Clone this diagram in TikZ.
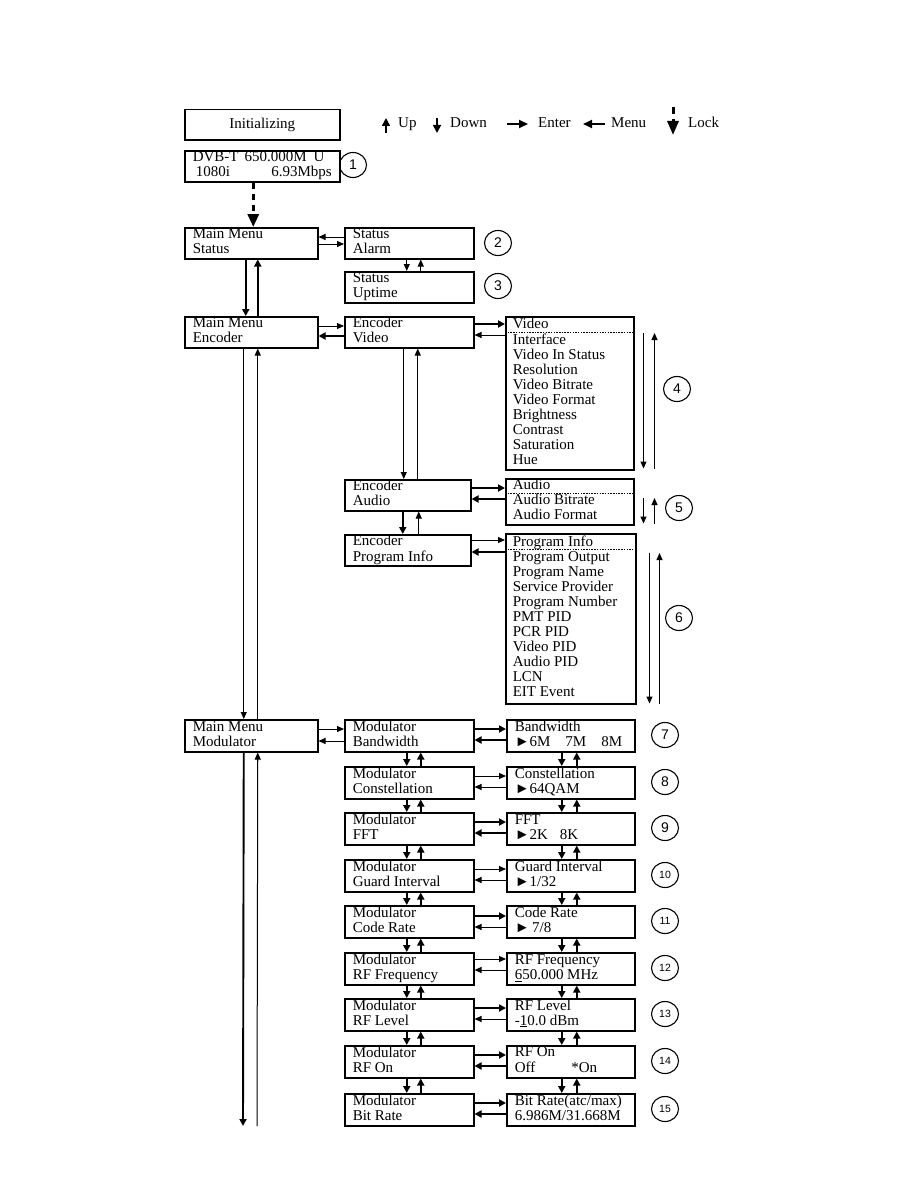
\documentclass[tikz,border=0pt]{standalone}
\usepackage{fontspec}
\setmainfont{Liberation Serif}
\newfontfamily\numfont{Liberation Sans}
\usetikzlibrary{arrows.meta,shapes.geometric}

\tikzset{
  lcdbox/.style={draw, line width=1.5pt, anchor=north west, inner xsep=8pt, inner ysep=0pt,
    align=flush left, font=\fontsize{15}{15}\selectfont},
  leftbox/.style={lcdbox, text width=117pt, minimum height=31pt},
  midbox/.style={lcdbox, text width=113pt, minimum height=31pt},
  valbox/.style={lcdbox, text width=112pt, minimum height=32pt},
  listbox/.style={lcdbox, inner xsep=7pt, text width=114pt},
  num/.style={draw, ellipse, line width=1.1pt, minimum width=27pt, minimum height=25pt,
    inner sep=0pt, font=\numfont\fontsize{14}{14}\selectfont},
  smallnum/.style={num, font=\numfont\fontsize{10.5}{10.5}\selectfont},
  thn/.style={line width=1pt, -{Triangle[length=7pt,width=6pt]}},
  thk/.style={line width=1.9pt, -{Triangle[length=7pt,width=7pt]}},
  lockarrow/.style={line width=3pt, dash pattern=on 6pt off 5pt, -{Triangle[length=13pt,width=11pt]}},
  sepline/.style={line width=1pt, dash pattern=on 1.5pt off 1.2pt},
  legend/.style={anchor=base west, inner sep=0pt, font=\fontsize{15}{15}\selectfont}
}

\begin{document}
\begin{tikzpicture}[x=1pt,y=1pt]
\useasboundingbox (0,0) rectangle (918,-1188);

% legend
\node[draw, line width=1.5pt, anchor=north west, minimum width=155pt, minimum height=30pt,
  font=\fontsize{15}{15}\selectfont] (init) at (184,-109) {Initializing};
\node[legend] (up) at (398,-128) {Up};
\node[legend] (down) at (450,-128) {Down};
\node[legend] (enter) at (538,-128) {Enter};
\node[legend] (menu) at (611,-128) {Menu};
\node[legend] (lock) at (688,-128) {Lock};
\draw[line width=1.6pt, -{Triangle[length=8pt,width=8pt]}] ([xshift=-12pt,yshift=-5pt]up.base west) -- ++(0,15);
\draw[line width=1.6pt, -{Triangle[length=8pt,width=8pt]}] ([xshift=-13pt,yshift=10pt]down.base west) -- ++(0,-15);
\draw[line width=1.8pt, -{Triangle[length=9pt,width=8pt]}] ([xshift=-31pt,yshift=4pt]enter.base west) -- ++(21,0);
\draw[line width=1.8pt, -{Triangle[length=9pt,width=8pt]}] ([xshift=-6pt,yshift=4pt]menu.base west) -- ++(-22,0);
\draw[line width=3pt, dash pattern=on 7pt off 5pt, -{Triangle[length=14pt,width=11pt]}] ([xshift=-15pt,yshift=21pt]lock.base west) -- ++(0,-28);

% status
\node[lcdbox, text width=139pt, minimum height=31pt] (dvb) at (184,-150)
  {\strut DVB-T\hspace{6pt}650.000M\hspace{7pt}U\\\strut\hspace{3pt}1080i\hfill 6.93Mbps};
\node[num] (c1) at (353,-165) {1};

\node[leftbox] (mmstatus) at (184,-227) {\strut Main Menu\\\strut Status};
\node[midbox] (stalarm) at (344,-227) {\strut Status\\\strut Alarm};
\node[midbox] (stuptime) at (344,-271) {\strut Status\\\strut Uptime};
\node[num] (c2) at (498,-243) {2};
\node[num] (c3) at (498,-286) {3};

\draw[lockarrow] ([xshift=-9pt]dvb.south) -- ([xshift=-9pt]dvb.south |- mmstatus.north);
\draw[thn] ([yshift=-10pt]stalarm.north west) -- ([yshift=-10pt]mmstatus.north east);
\draw[thn] ([yshift=-17pt]mmstatus.north east) -- ([yshift=-17pt]stalarm.north west);
\draw[thn] ([xshift=-2.5pt]stalarm.south) -- ([xshift=-2.5pt]stuptime.north);
\draw[thn] ([xshift=11.5pt]stuptime.north) -- ([xshift=11.5pt]stalarm.south);

% encoder
\node[leftbox] (mmenc) at (184,-316) {\strut Main Menu\\\strut Encoder};
\node[midbox] (encvideo) at (344,-316) {\strut Encoder\\\strut Video};
\node[listbox, minimum height=153pt] (vlist) at (505,-316)
  {\strut Video\\\strut Interface\\\strut Video In Status\\\strut Resolution\\\strut Video Bitrate\\
   \strut Video Format\\\strut Brightness\\\strut Contrast\\\strut Saturation\\\strut Hue};
\draw[sepline] ([yshift=-16pt]vlist.north west) -- ([yshift=-16pt]vlist.north east);
\node[num] (c4) at (677,-389) {4};

\node[midbox, text width=110pt] (encaudio) at (344,-479) {\strut Encoder\\\strut Audio};
\node[listbox, minimum height=46pt] (alist) at (505,-478)
  {\strut Audio\\\strut Audio Bitrate\\\strut Audio Format};
\draw[sepline] ([yshift=-15pt]alist.north west) -- ([yshift=-15pt]alist.north east);
\node[num] (c5) at (679,-508) {5};

\node[midbox, text width=110pt] (encprog) at (344,-534) {\strut Encoder\\\strut Program Info};
\node[listbox, text width=116pt, minimum height=170pt] (plist) at (505,-533)
  {\strut Program Info\\\strut Program Output\\\strut Program Name\\\strut Service Provider\\
   \strut Program Number\\\strut PMT PID\\\strut PCR PID\\\strut Video PID\\\strut Audio PID\\
   \strut LCN\\\strut EIT Event};
\draw[sepline] ([yshift=-16pt]plist.north west) -- ([yshift=-16pt]plist.north east);
\node[num] (c6) at (679,-618) {6};

\draw[thk] ([xshift=-5.5pt]mmstatus.south) -- ([xshift=-5.5pt]mmenc.north);
\draw[thk] ([xshift=6.5pt]mmenc.north) -- ([xshift=6.5pt]mmstatus.south);
\draw[thn] ([yshift=-10pt]mmenc.north east) -- ([yshift=-10pt]encvideo.north west);
\draw[thk] ([yshift=-20pt]encvideo.north west) -- ([yshift=-20pt]mmenc.north east);
\draw[thk] ([yshift=-8pt]encvideo.north east) -- ([yshift=-8pt]vlist.north west);
\draw[thn] ([yshift=-19pt]vlist.north west) -- ([yshift=-19pt]encvideo.north east);
\draw[thn] ([xshift=9pt,yshift=-17pt]vlist.north east) -- ([xshift=9pt,yshift=2pt]vlist.south east);
\draw[thn] ([xshift=20pt,yshift=2pt]vlist.south east) -- ([xshift=20pt,yshift=-17pt]vlist.north east);
\draw[thn] ([xshift=-5.5pt]encvideo.south) -- ([xshift=-5.5pt]encvideo.south |- encaudio.north);
\draw[thn] ([xshift=8.5pt]encvideo.south |- encaudio.north) -- ([xshift=8.5pt]encvideo.south);
\draw[thk] ([yshift=-9pt]encaudio.north east) -- ([yshift=-9pt]encaudio.north east -| alist.west);
\draw[thk] ([yshift=-20pt]encaudio.north east -| alist.west) -- ([yshift=-20pt]encaudio.north east);
\draw[thn] ([xshift=9pt,yshift=-20pt]alist.north east) -- ([xshift=9pt,yshift=2pt]alist.south east);
\draw[thn] ([xshift=20pt,yshift=2pt]alist.south east) -- ([xshift=20pt,yshift=-20pt]alist.north east);
\draw[thk] ([xshift=-5pt]encaudio.south) -- ([xshift=-5pt]encprog.north);
\draw[thn] ([xshift=11pt]encprog.north) -- ([xshift=11pt]encaudio.south);
\draw[thn] ([yshift=-6pt]encprog.north east) -- ([yshift=-6pt]encprog.north east -| plist.west);
\draw[thk] ([yshift=-18pt]encprog.north east -| plist.west) -- ([yshift=-18pt]encprog.north east);
\draw[thn] ([xshift=13pt,yshift=-20pt]plist.north east) -- ([xshift=13pt,yshift=1pt]plist.south east);
\draw[thn] ([xshift=23pt,yshift=1pt]plist.south east) -- ([xshift=23pt,yshift=-20pt]plist.north east);

% modulator
\node[leftbox, minimum height=32pt] (mmmod) at (184,-719) {\strut Main Menu\\\strut Modulator};
\coordinate (modend) at (250.5,-1126);

\node[midbox, minimum height=32pt] (modbw) at (344,-719) {\strut Modulator\\\strut Bandwidth};
\node[valbox] (bwval) at (506,-719) {\strut Bandwidth\\\strut ►6M\hspace{15pt}7M\hspace{15pt}8M};
\node[num] (c7) at (665,-735) {7};
\node[midbox, minimum height=32pt] (modcon) at (344,-766) {\strut Modulator\\\strut Constellation};
\node[valbox] (conval) at (506,-766) {\strut Constellation\\\strut ►64QAM};
\node[num] (c8) at (665,-782) {8};
\node[midbox, minimum height=32pt] (modfft) at (344,-812) {\strut Modulator\\\strut FFT};
\node[valbox] (fftval) at (506,-812) {\strut FFT\\\strut ►2K\hspace{12pt}8K};
\node[num] (c9) at (665,-828) {9};
\node[midbox, minimum height=32pt] (modgi) at (344,-859) {\strut Modulator\\\strut Guard Interval};
\node[valbox] (gival) at (506,-859) {\strut Guard Interval\\\strut ►1/32};
\node[smallnum] (c10) at (665,-875) {10};
\node[midbox, minimum height=32pt] (modcr) at (344,-905) {\strut Modulator\\\strut Code Rate};
\node[valbox] (crval) at (506,-905) {\strut Code Rate\\\strut ►\,7/8};
\node[smallnum] (c11) at (665,-921) {11};
\node[midbox, minimum height=32pt] (modrff) at (344,-952) {\strut Modulator\\\strut RF Frequency};
\node[valbox] (rffval) at (506,-952) {\strut RF Frequency\\\strut \underline{6}50.000 MHz};
\node[smallnum] (c12) at (665,-968) {12};
\node[midbox, minimum height=32pt] (modrfl) at (344,-998) {\strut Modulator\\\strut RF Level};
\node[valbox] (rflval) at (506,-998) {\strut RF Level\\\strut -\underline{1}0.0 dBm};
\node[smallnum] (c13) at (665,-1014) {13};
\node[midbox, minimum height=32pt] (modrfon) at (344,-1045) {\strut Modulator\\\strut RF On};
\node[valbox] (rfonval) at (506,-1045) {\strut RF On\\\strut Off\hspace{36pt}*On};
\node[smallnum] (c14) at (665,-1061) {14};
\node[midbox, minimum height=32pt] (modbr) at (344,-1093) {\strut Modulator\\\strut Bit Rate};
\node[valbox] (brval) at (506,-1093) {\strut Bit Rate(atc/max)\\\strut 6.986M/31.668M};
\node[smallnum] (c15) at (665,-1109) {15};

\draw[thn] ([xshift=-7.5pt]mmenc.south) -- ([xshift=-7.5pt]mmmod.north);
\draw[thn] ([xshift=6.5pt]mmmod.north) -- ([xshift=6.5pt]mmenc.south);
\draw[thk] ([xshift=-7.5pt]mmmod.south) -- ([xshift=-7.5pt]modend);
\draw[line width=1pt] ([xshift=6.5pt]modend) -- ([xshift=6.5pt,yshift=-7pt]mmmod.south);
\draw[thn] ([xshift=6.5pt,yshift=-8pt]mmmod.south) -- ([xshift=6.5pt]mmmod.south);
\draw[thn] ([yshift=-10pt]mmmod.north east) -- ([yshift=-10pt]modbw.north west);
\draw[thn] ([yshift=-22pt]modbw.north west) -- ([yshift=-22pt]mmmod.north east);

% menu to value
\draw[thk] ([yshift=-10pt]modbw.north east) -- ([yshift=-10pt]bwval.north west);
\draw[thk] ([yshift=-21pt]bwval.north west) -- ([yshift=-21pt]modbw.north east);
\draw[thn] ([yshift=-10pt]modcon.north east) -- ([yshift=-10pt]conval.north west);
\draw[thn] ([yshift=-21pt]conval.north west) -- ([yshift=-21pt]modcon.north east);
\draw[thk] ([yshift=-10pt]modfft.north east) -- ([yshift=-10pt]fftval.north west);
\draw[thk] ([yshift=-21pt]fftval.north west) -- ([yshift=-21pt]modfft.north east);
\draw[thn] ([yshift=-10pt]modgi.north east) -- ([yshift=-10pt]gival.north west);
\draw[thn] ([yshift=-21pt]gival.north west) -- ([yshift=-21pt]modgi.north east);
\draw[thk] ([yshift=-11pt]modcr.north east) -- ([yshift=-11pt]crval.north west);
\draw[thn] ([yshift=-22pt]crval.north west) -- ([yshift=-22pt]modcr.north east);
\draw[thn] ([yshift=-7pt]modrff.north east) -- ([yshift=-7pt]rffval.north west);
\draw[thn] ([yshift=-18pt]rffval.north west) -- ([yshift=-18pt]modrff.north east);
\draw[thk] ([yshift=-10pt]modrfl.north east) -- ([yshift=-10pt]rflval.north west);
\draw[thn] ([yshift=-21pt]rflval.north west) -- ([yshift=-21pt]modrfl.north east);
\draw[thk] ([yshift=-10pt]modrfon.north east) -- ([yshift=-10pt]rfonval.north west);
\draw[thk] ([yshift=-21pt]rfonval.north west) -- ([yshift=-21pt]modrfon.north east);
\draw[thk] ([yshift=-10pt]modbr.north east) -- ([yshift=-10pt]brval.north west);
\draw[thk] ([yshift=-21pt]brval.north west) -- ([yshift=-21pt]modbr.north east);

% up and down between rows
\draw[thk] ([xshift=-2.5pt]modbw.south) -- ([xshift=-2.5pt]modcon.north);
\draw[thk] ([xshift=11.5pt]modcon.north) -- ([xshift=11.5pt]modbw.south);
\draw[thk] ([xshift=-9pt]bwval.south) -- ([xshift=-9pt]conval.north);
\draw[thk] ([xshift=6pt]conval.north) -- ([xshift=6pt]bwval.south);
\draw[thk] ([xshift=-2.5pt]modcon.south) -- ([xshift=-2.5pt]modfft.north);
\draw[thk] ([xshift=11.5pt]modfft.north) -- ([xshift=11.5pt]modcon.south);
\draw[thk] ([xshift=-9pt]conval.south) -- ([xshift=-9pt]fftval.north);
\draw[thk] ([xshift=6pt]fftval.north) -- ([xshift=6pt]conval.south);
\draw[thk] ([xshift=-2.5pt]modfft.south) -- ([xshift=-2.5pt]modgi.north);
\draw[thk] ([xshift=11.5pt]modgi.north) -- ([xshift=11.5pt]modfft.south);
\draw[thk] ([xshift=-9pt]fftval.south) -- ([xshift=-9pt]gival.north);
\draw[thk] ([xshift=6pt]gival.north) -- ([xshift=6pt]fftval.south);
\draw[thk] ([xshift=-2.5pt]modgi.south) -- ([xshift=-2.5pt]modcr.north);
\draw[thk] ([xshift=11.5pt]modcr.north) -- ([xshift=11.5pt]modgi.south);
\draw[thk] ([xshift=-9pt]gival.south) -- ([xshift=-9pt]crval.north);
\draw[thk] ([xshift=6pt]crval.north) -- ([xshift=6pt]gival.south);
\draw[thk] ([xshift=-2.5pt]modcr.south) -- ([xshift=-2.5pt]modrff.north);
\draw[thk] ([xshift=11.5pt]modrff.north) -- ([xshift=11.5pt]modcr.south);
\draw[thk] ([xshift=-9pt]crval.south) -- ([xshift=-9pt]rffval.north);
\draw[thk] ([xshift=6pt]rffval.north) -- ([xshift=6pt]crval.south);
\draw[thk] ([xshift=-2.5pt]modrff.south) -- ([xshift=-2.5pt]modrfl.north);
\draw[thk] ([xshift=11.5pt]modrfl.north) -- ([xshift=11.5pt]modrff.south);
\draw[thk] ([xshift=-9pt]rffval.south) -- ([xshift=-9pt]rflval.north);
\draw[thk] ([xshift=6pt]rflval.north) -- ([xshift=6pt]rffval.south);
\draw[thk] ([xshift=-2.5pt]modrfl.south) -- ([xshift=-2.5pt]modrfon.north);
\draw[thk] ([xshift=11.5pt]modrfon.north) -- ([xshift=11.5pt]modrfl.south);
\draw[thk] ([xshift=-9pt]rflval.south) -- ([xshift=-9pt]rfonval.north);
\draw[thk] ([xshift=6pt]rfonval.north) -- ([xshift=6pt]rflval.south);
\draw[thk] ([xshift=-2.5pt]modrfon.south) -- ([xshift=-2.5pt]modbr.north);
\draw[thk] ([xshift=11.5pt]modbr.north) -- ([xshift=11.5pt]modrfon.south);
\draw[thk] ([xshift=-9pt]rfonval.south) -- ([xshift=-9pt]brval.north);
\draw[thk] ([xshift=6pt]brval.north) -- ([xshift=6pt]rfonval.south);
\end{tikzpicture}
\end{document}
